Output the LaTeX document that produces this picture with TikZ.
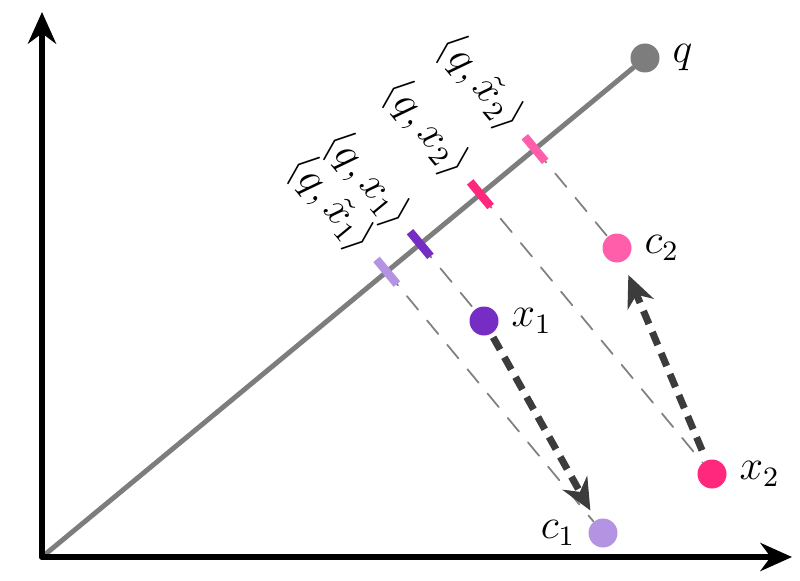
\documentclass[tikz,border=0pt]{standalone}
\usepackage{tikz}
\usetikzlibrary{arrows.meta}
\usetikzlibrary{calc}
\usepackage{color}
\definecolor{xone}{RGB}{118,45,195}
\definecolor{cone}{RGB}{180,148,226}
\definecolor{xtwo}{RGB}{255,40,125}
\definecolor{ctwo}{RGB}{255,95,170}
\definecolor{qgray}{RGB}{125,125,125}
\definecolor{movegray}{RGB}{60,60,60}
\begin{document}
\begin{tikzpicture}[line cap=round,line join=round,>={Stealth[length=9pt,width=8pt]},x=1cm,y=1cm,
  dot/.style={circle,inner sep=0pt,minimum size=0.29cm},
  proj/.style={gray,line width=0.5pt,dash pattern=on 5pt off 4pt},
  tickmark/.style={line width=2.4pt,line cap=butt},
  move/.style={->,movegray,line width=2pt,dash pattern=on 4pt off 2.5pt,line cap=butt},
  lab/.style={font=\large},
  ip/.style={font=\large,rotate=-50.4,anchor=east,inner sep=1pt}]
\useasboundingbox (-0.42,-0.23) rectangle (7.58,5.57);
\coordinate (O) at (0,0);
\coordinate (xend) at (7.5,0);
\coordinate (yend) at (0,5.45);
% points
\node [dot,fill=qgray] (q) at (6.03,4.99) {};
\node [dot,fill=xone] (x1) at (4.42,2.36) {};
\node [dot,fill=cone] (c1) at (5.61,0.24) {};
\node [dot,fill=xtwo] (x2) at (6.70,0.83) {};
\node [dot,fill=ctwo] (c2) at (5.75,3.09) {};
% projections on the q line
\coordinate (tx1) at ($(O)!(x1.center)!(q.center)$);
\coordinate (tc1) at ($(O)!(c1.center)!(q.center)$);
\coordinate (tx2) at ($(O)!(x2.center)!(q.center)$);
\coordinate (tc2) at ($(O)!(c2.center)!(q.center)$);
\draw [proj] (tx1)--(x1);
\draw [proj] (tc1)--(c1);
\draw [proj] (tx2)--(x2);
\draw [proj] (tc2)--(c2);
\draw [qgray,line width=1.4pt] (O)--(q);
\draw [tickmark,xone] ($(tx1)!0.16cm!(x1.center)$)--($(tx1)!-0.16cm!(x1.center)$);
\draw [tickmark,cone] ($(tc1)!0.16cm!(c1.center)$)--($(tc1)!-0.16cm!(c1.center)$);
\draw [tickmark,xtwo] ($(tx2)!0.16cm!(x2.center)$)--($(tx2)!-0.16cm!(x2.center)$);
\draw [tickmark,ctwo] ($(tc2)!0.16cm!(c2.center)$)--($(tc2)!-0.16cm!(c2.center)$);
\node [ip] (ltx1) at ($(tx1)!-0.24cm!(x1.center)$) {$\langle q, x_1\rangle$};
\node [ip] (ltc1) at ($(tc1)!-0.28cm!(c1.center)$) {$\langle q, \tilde{x}_1\rangle$};
\node [ip] (ltx2) at ($(tx2)!-0.26cm!(x2.center)$) {$\langle q, x_2\rangle$};
\node [ip] (ltc2) at ($(tc2)!-0.26cm!(c2.center)$) {$\langle q, \tilde{x}_2\rangle$};
% moves
\draw [move,shorten <=1pt,shorten >=3pt] (x1)--(c1);
\draw [move,shorten <=3pt,shorten >=4pt] (x2)--(c2);
% axes
\draw [line width=1.6pt,->] (O)--(xend);
\draw [line width=1.6pt,->] (O)--(yend);
% labels
\node [lab,right] (lq) at (q.east) {$q$};
\node [lab,right] (lx1) at (x1.east) {$x_1$};
\node [lab,left] (lc1) at (c1.west) {$c_1$};
\node [lab,right] (lx2) at (x2.east) {$x_2$};
\node [lab,right] (lc2) at (c2.east) {$c_2$};
\end{tikzpicture}
\end{document}
